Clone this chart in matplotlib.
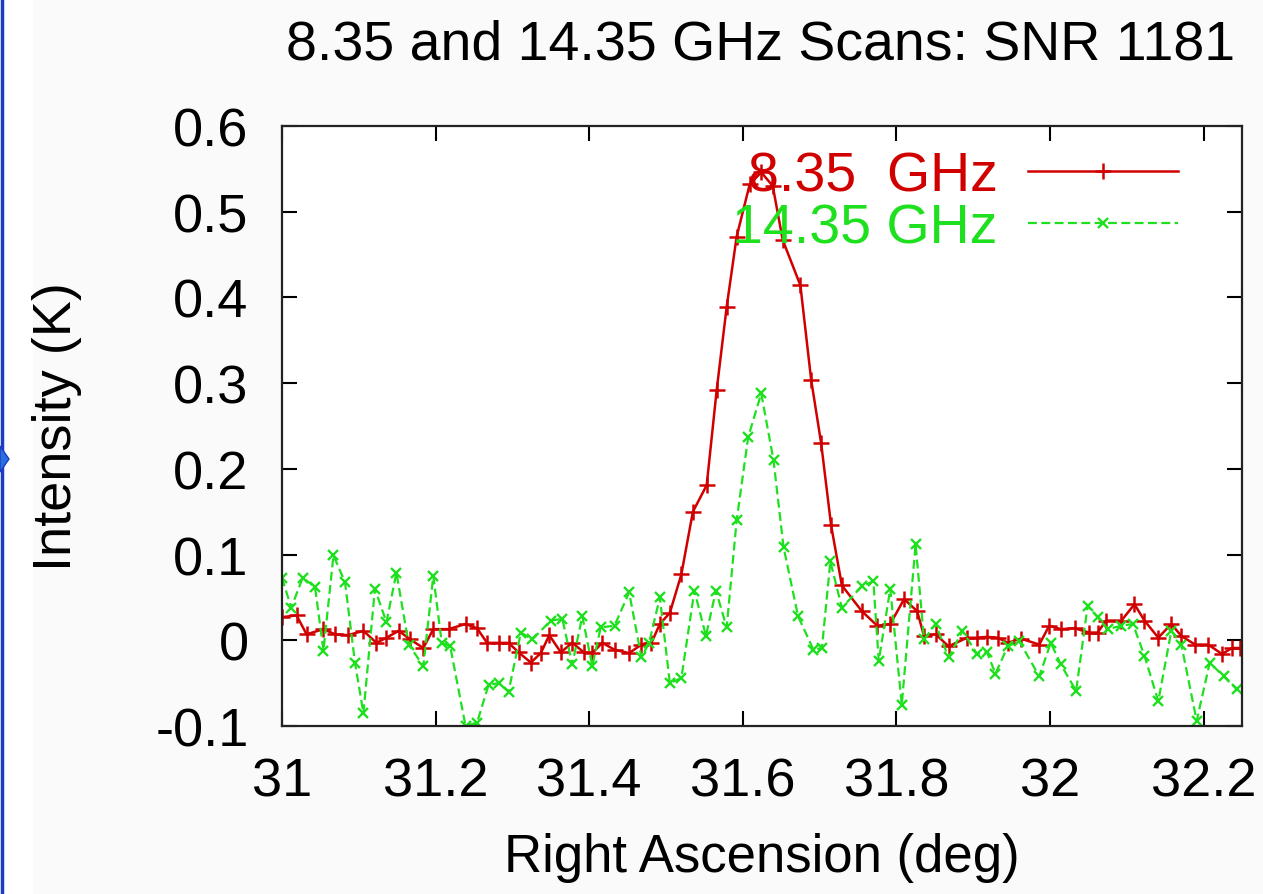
import matplotlib
matplotlib.use("Agg")
import matplotlib.pyplot as plt
from matplotlib.lines import Line2D
from matplotlib.patches import Polygon, Rectangle

plt.rcParams['font.family'] = ['Liberation Sans', 'DejaVu Sans']

# ---- data ----
ra_835 = [31.000, 31.019, 31.032, 31.054, 31.069, 31.086, 31.106, 31.123, 31.136, 31.152,
          31.167, 31.184, 31.197, 31.217, 31.239, 31.254, 31.267, 31.282, 31.295, 31.308,
          31.324, 31.337, 31.348, 31.363, 31.378, 31.393, 31.404, 31.417, 31.433, 31.452,
          31.468, 31.481, 31.492, 31.505, 31.520, 31.535, 31.553, 31.566, 31.579, 31.592,
          31.609, 31.624, 31.639, 31.652, 31.675, 31.689, 31.702, 31.715, 31.729, 31.755,
          31.775, 31.792, 31.810, 31.827, 31.836, 31.851, 31.868, 31.892, 31.905, 31.918,
          31.932, 31.945, 31.962, 31.986, 31.999, 32.014, 32.032, 32.051, 32.062, 32.073,
          32.093, 32.110, 32.123, 32.141, 32.158, 32.171, 32.189, 32.206, 32.224, 32.237,
          32.248]
int_835 = [0.027, 0.029, 0.007, 0.013, 0.007, 0.006, 0.011, -0.003, 0.003, 0.011,
           0.001, -0.009, 0.013, 0.013, 0.019, 0.014, -0.003, -0.003, -0.003, -0.014,
           -0.026, -0.015, 0.006, -0.014, -0.003, -0.014, -0.015, -0.003, -0.011, -0.015,
           -0.005, -0.003, 0.019, 0.032, 0.077, 0.150, 0.181, 0.292, 0.389, 0.471,
           0.532, 0.546, 0.530, 0.467, 0.414, 0.304, 0.230, 0.134, 0.064, 0.034,
           0.017, 0.019, 0.048, 0.034, 0.005, 0.007, -0.007, 0.003, 0.003, 0.004,
           0.003, -0.003, 0.002, -0.005, 0.017, 0.013, 0.014, 0.009, 0.009, 0.023,
           0.023, 0.042, 0.023, 0.003, 0.019, 0.005, -0.005, -0.005, -0.016, -0.009,
           -0.009]

ra_1435 = [31.000, 31.012, 31.027, 31.043, 31.054, 31.067, 31.082, 31.095, 31.106, 31.121,
           31.136, 31.149, 31.165, 31.184, 31.197, 31.208, 31.219, 31.239, 31.254, 31.269,
           31.282, 31.295, 31.311, 31.326, 31.350, 31.365, 31.378, 31.391, 31.404, 31.415,
           31.433, 31.452, 31.468, 31.478, 31.492, 31.505, 31.520, 31.537, 31.552, 31.565,
           31.579, 31.592, 31.607, 31.624, 31.640, 31.653, 31.672, 31.692, 31.703, 31.714,
           31.729, 31.755, 31.770, 31.777, 31.792, 31.807, 31.825, 31.836, 31.851, 31.868,
           31.886, 31.905, 31.918, 31.929, 31.945, 31.960, 31.986, 32.001, 32.014, 32.034,
           32.049, 32.062, 32.075, 32.093, 32.108, 32.123, 32.141, 32.158, 32.171, 32.191,
           32.208, 32.226, 32.243]
int_1435 = [0.073, 0.038, 0.073, 0.062, -0.012, 0.099, 0.068, -0.026, -0.085, 0.060,
            0.021, 0.079, -0.005, -0.030, 0.075, -0.003, -0.007, -0.100, -0.096, -0.052,
            -0.050, -0.060, 0.009, 0.001, 0.023, 0.025, -0.028, 0.028, -0.030, 0.015,
            0.017, 0.056, -0.020, -0.003, 0.050, -0.050, -0.044, 0.058, 0.005, 0.058,
            0.015, 0.140, 0.237, 0.288, 0.210, 0.109, 0.028, -0.011, -0.009, 0.092,
            0.038, 0.063, 0.069, -0.024, 0.060, -0.075, 0.112, 0.001, 0.019, -0.020,
            0.011, -0.016, -0.014, -0.039, -0.007, -0.001, -0.042, -0.003, -0.028, -0.059,
            0.040, 0.027, 0.013, 0.017, 0.019, -0.018, -0.071, 0.011, -0.005, -0.094,
            -0.026, -0.042, -0.057]

x_ticks = [31.0, 31.2, 31.4, 31.6, 31.8, 32.0, 32.2]
x_tick_labels = ['31', '31.2', '31.4', '31.6', '31.8', '32', '32.2']
y_ticks = [-0.1, 0.0, 0.1, 0.2, 0.3, 0.4, 0.5, 0.6]
y_tick_labels = ['-0.1', '0', '0.1', '0.2', '0.3', '0.4', '0.5', '0.6']

title = '8.35 and 14.35 GHz Scans: SNR 1181'
label_835 = '8.35  GHz'
label_1435 = '14.35 GHz'

RED = '#d00000'
GREEN = '#1ee01e'
FS = 39

W, H = 1263, 895
fig = plt.figure(figsize=(W / 100, H / 100), dpi=100, facecolor='white')

# light page background and slide border
fig.patches.append(Rectangle((33 / W, 0), 1 - 33 / W, 1, transform=fig.transFigure,
                             facecolor='#fafafa', edgecolor='none', zorder=-10))
fig.lines.append(Line2D([2 / W, 2 / W], [0, 1], transform=fig.transFigure,
                        color='#1c3cc4', lw=2.5, zorder=-5))
fig.patches.append(Polygon([[0, (895 - 447) / H], [9 / W, (895 - 460) / H], [0, (895 - 473) / H]],
                           closed=True, transform=fig.transFigure, zorder=-5,
                           facecolor='#2a6ee0', edgecolor='#1c3cc4', lw=1))

ax = fig.add_axes([282 / W, (H - 727) / H, (1242 - 282) / W, (727 - 127) / H])
ax.set_facecolor('white')

ax.plot(ra_835, int_835, color=RED, lw=1.8, marker='+', markersize=11,
        markeredgewidth=1.8, label=label_835)
ax.plot(ra_1435, int_1435, color=GREEN, lw=1.6, dashes=(4, 2), marker='x',
        markersize=7.5, markeredgewidth=1.7, label=label_1435)

ax.set_xlim(31.0, 32.25)
ax.set_ylim(-0.1, 0.6)
ax.set_xticks(x_ticks)
ax.set_xticklabels(x_tick_labels)
ax.set_yticks(y_ticks)
ax.set_yticklabels(y_tick_labels)
ax.tick_params(direction='in', length=11, width=1.5, top=True, right=True,
               labelsize=FS, colors='black')
ax.tick_params(axis='x', pad=22)
ax.tick_params(axis='y', pad=24)
for sp in ax.spines.values():
    sp.set_linewidth(1.6)
    sp.set_color('#222222')

ax.set_xlabel('Right Ascension (deg)', fontsize=38, labelpad=18)
ax.set_ylabel('Intensity (K)', fontsize=FS)
ax.yaxis.set_label_coords((82 - 282) / (1242 - 282), 0.5)

fig.text(0.602, 1 - 45 / H, title, fontsize=40, ha='center', va='center')

leg = ax.legend(loc='upper right', bbox_to_anchor=(1206 / W, 1 - 124 / H),
                bbox_transform=fig.transFigure, frameon=False, markerfirst=False,
                fontsize=40, handlelength=2.7, handletextpad=0.55, labelspacing=0.0,
                borderpad=0.0, labelcolor='linecolor', numpoints=1)

fig.savefig('out.png', dpi=100, facecolor=fig.get_facecolor())
